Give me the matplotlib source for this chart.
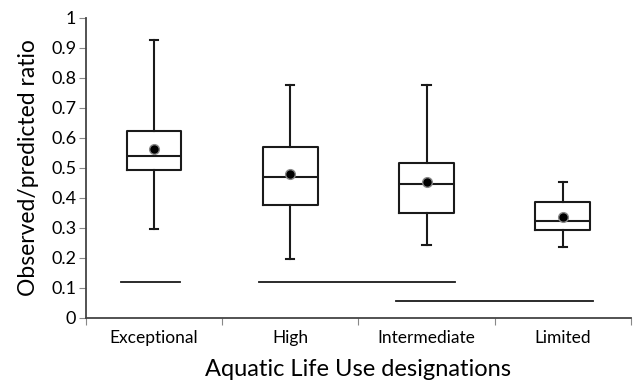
import matplotlib.pyplot as plt

categories = ['Exceptional', 'High', 'Intermediate', 'Limited']
whisker_lo = [0.296, 0.195, 0.243, 0.237]
q1 = [0.491, 0.375, 0.349, 0.292]
medians = [0.538, 0.469, 0.446, 0.322]
q3 = [0.622, 0.570, 0.517, 0.385]
whisker_hi = [0.924, 0.777, 0.777, 0.451]
means = [0.563, 0.478, 0.452, 0.337]

# groups that are not significantly different (start, end in category units, level)
group_start = [-0.245, 0.768, 1.776]
group_end = [0.192, 2.209, 3.22]
group_level = [0.121, 0.121, 0.055]

plt.rcParams['font.family'] = ['Lato', 'DejaVu Sans']

fig = plt.figure(figsize=(6.34, 3.83), dpi=100)
ax = fig.add_axes([0.1356, 0.170, 0.8594, 0.784])

stats = []
for i in range(len(categories)):
    stats.append({'whislo': whisker_lo[i], 'q1': q1[i], 'med': medians[i],
                  'q3': q3[i], 'whishi': whisker_hi[i], 'mean': means[i],
                  'label': categories[i]})

ax.bxp(stats, positions=range(len(categories)), widths=0.4, showmeans=True,
       showfliers=False,
       boxprops=dict(color='#1a1a1a', linewidth=1.5),
       medianprops=dict(color='#1a1a1a', linewidth=1.5),
       whiskerprops=dict(color='#1a1a1a', linewidth=1.5),
       capprops=dict(color='#1a1a1a', linewidth=1.5),
       capwidths=0.06,
       meanprops=dict(marker='o', markerfacecolor='black', markeredgecolor='#888888',
                      markeredgewidth=1.0, markersize=7))

for s, e, lv in zip(group_start, group_end, group_level):
    ax.plot([s, e], [lv, lv], color='#1a1a1a', linewidth=1.3)

ax.set_xlim(-0.5, 3.5)
ax.set_ylim(0, 1)
ax.set_yticks([i / 10 for i in range(11)])
ax.set_yticklabels(['0', '0.1', '0.2', '0.3', '0.4', '0.5', '0.6', '0.7', '0.8', '0.9', '1'],
                   fontsize=13)
ax.set_xticks([-0.5, 0.5, 1.5, 2.5, 3.5])
ax.set_xticklabels([])
ax.set_xticks(range(4), minor=True)
ax.set_xticklabels(categories, minor=True, fontsize=12.5)
ax.tick_params(axis='x', which='minor', length=0, pad=9)
ax.tick_params(axis='x', which='major', length=5, color='#888888', direction='out')
ax.tick_params(axis='y', length=5, color='#888888', direction='out', pad=2)

for side in ['top', 'right']:
    ax.spines[side].set_visible(False)
ax.spines['left'].set_color('#444444')
ax.spines['bottom'].set_color('#444444')
ax.spines['left'].set_linewidth(1.3)
ax.spines['bottom'].set_linewidth(1.3)

ax.set_ylabel('Observed/predicted ratio', fontsize=16.5, labelpad=9)
ax.set_xlabel('Aquatic Life Use designations', fontsize=17, labelpad=9)

fig.savefig('out.png', dpi=100)
